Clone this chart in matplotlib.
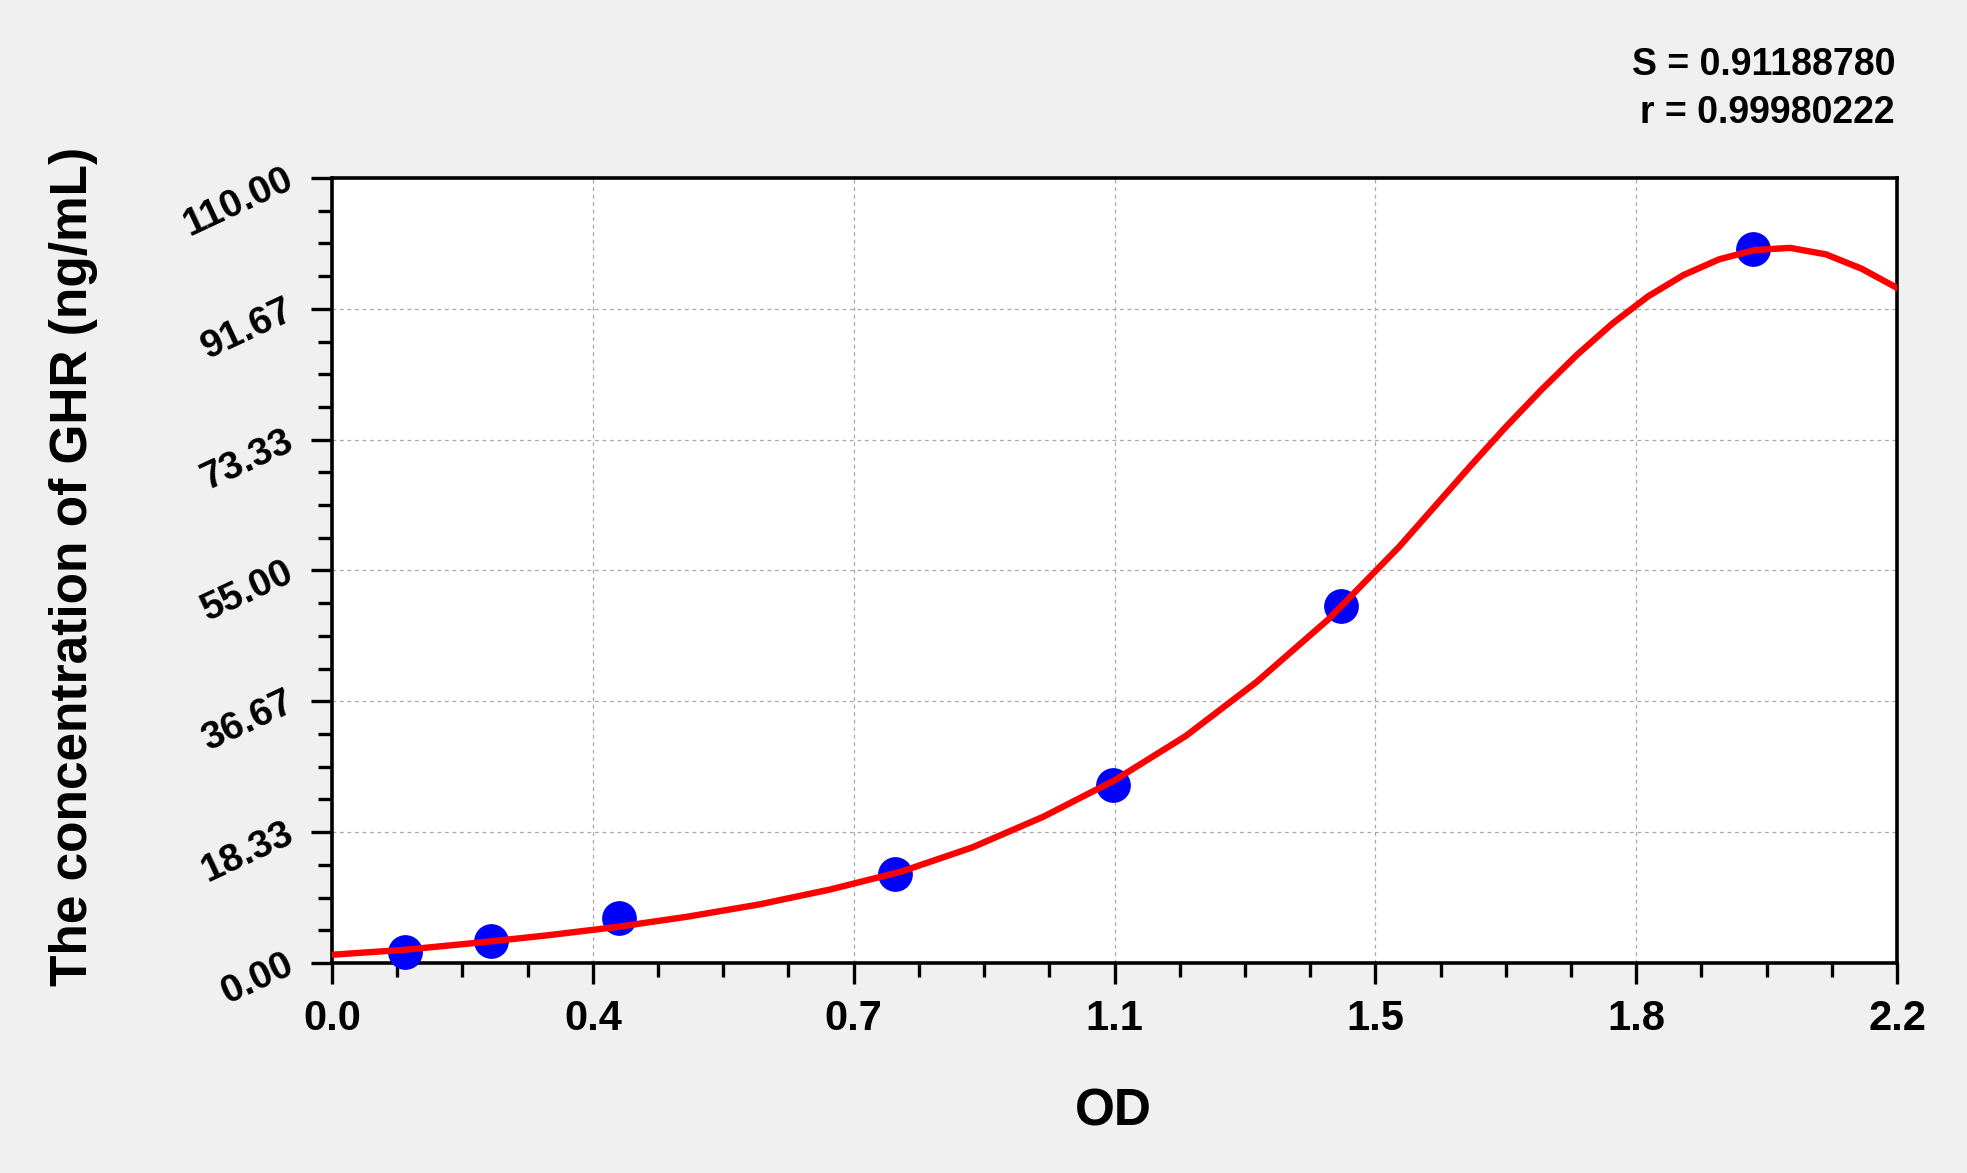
import numpy as np
import matplotlib
matplotlib.use("Agg")
import matplotlib.pyplot as plt
from matplotlib.ticker import FixedLocator, MultipleLocator

# standards: OD reading vs. known concentration (ng/mL)
od = [0.103, 0.224, 0.403, 0.791, 1.098, 1.418, 1.997]
conc = [1.56, 3.12, 6.25, 12.5, 25.0, 50.0, 100.0]

# fitted curve
curve_od = [0.00, 0.10, 0.20, 0.30, 0.40, 0.50, 0.60, 0.70, 0.80, 0.90,
            1.00, 1.10, 1.20, 1.30, 1.40, 1.50, 1.60, 1.65, 1.70, 1.75,
            1.80, 1.85, 1.90, 1.95, 2.00, 2.05, 2.10, 2.15, 2.20]
curve_conc = [1.16, 1.84, 2.80, 3.85, 5.05, 6.50, 8.20, 10.3, 12.8, 16.2,
              20.5, 25.6, 31.8, 39.4, 48.1, 58.3, 69.6, 75.1, 80.3, 85.2,
              89.6, 93.4, 96.4, 98.6, 99.9, 100.2, 99.3, 97.3, 94.6]

x_ticklabels = ['0.0', '0.4', '0.7', '1.1', '1.5', '1.8', '2.2']
y_ticklabels = ['0.00', '18.33', '36.67', '55.00', '73.33', '91.67', '110.00']
stats = ['S = 0.91188780', 'r = 0.99980222']

plt.rcParams['font.family'] = ['Liberation Sans', 'DejaVu Sans']
plt.rcParams['font.weight'] = 'bold'

fig = plt.figure(figsize=(19.67, 11.73), dpi=100, facecolor='#f0f0f0')
ax = fig.add_axes([0.1688, 0.1790, 0.7956, 0.6693])
ax.set_facecolor('white')

ax.plot(od, conc, 'o', color='#0000ff', markersize=24, zorder=3, clip_on=False)
ax.plot(curve_od, curve_conc, '-', color='#ff0000', lw=4.6, zorder=4,
        solid_joinstyle='round')

ax.set_xlim(0, 2.2)
ax.set_ylim(0, 110)

xt = np.linspace(0, 2.2, len(x_ticklabels))
yt = np.linspace(0, 110, len(y_ticklabels))
ax.xaxis.set_major_locator(FixedLocator(xt))
ax.yaxis.set_major_locator(FixedLocator(yt))
ax.xaxis.set_minor_locator(MultipleLocator(2.2 / 24))
ax.yaxis.set_minor_locator(MultipleLocator(110 / 24))
ax.set_xticklabels(x_ticklabels, fontsize=30, fontweight='bold')
ax.set_yticklabels(y_ticklabels, fontsize=28, fontweight='bold',
                   rotation=25, rotation_mode='anchor', ha='right', va='center')

ax.tick_params(which='major', direction='out', length=15, width=2.4, color='black')
ax.tick_params(which='minor', direction='out', length=10, width=2.4, color='black')
ax.tick_params(axis='x', which='major', pad=11)
ax.tick_params(axis='y', which='major', pad=14)

for s in ax.spines.values():
    s.set_linewidth(2.6)
    s.set_color('black')

ax.grid(True, which='major', color='#a8a8a8', lw=0.9, linestyle=(0, (3, 3)))
ax.set_axisbelow(True)

fig.text(74 / 1967, 1 - 566 / 1173, 'The concentration of GHR (ng/mL)',
         rotation=90, ha='center', va='center', fontsize=37, fontweight='bold')
fig.text(1113 / 1967, 1 - 1112 / 1173, 'OD', ha='center', va='center',
         fontsize=37, fontweight='bold')

fig.text(1895 / 1967, 1 - 65 / 1173, stats[0], ha='right', va='center',
         fontsize=27, fontweight='bold')
fig.text(1895 / 1967, 1 - 113 / 1173, stats[1], ha='right', va='center',
         fontsize=27, fontweight='bold')

fig.savefig('out.png', dpi=100, facecolor=fig.get_facecolor())
